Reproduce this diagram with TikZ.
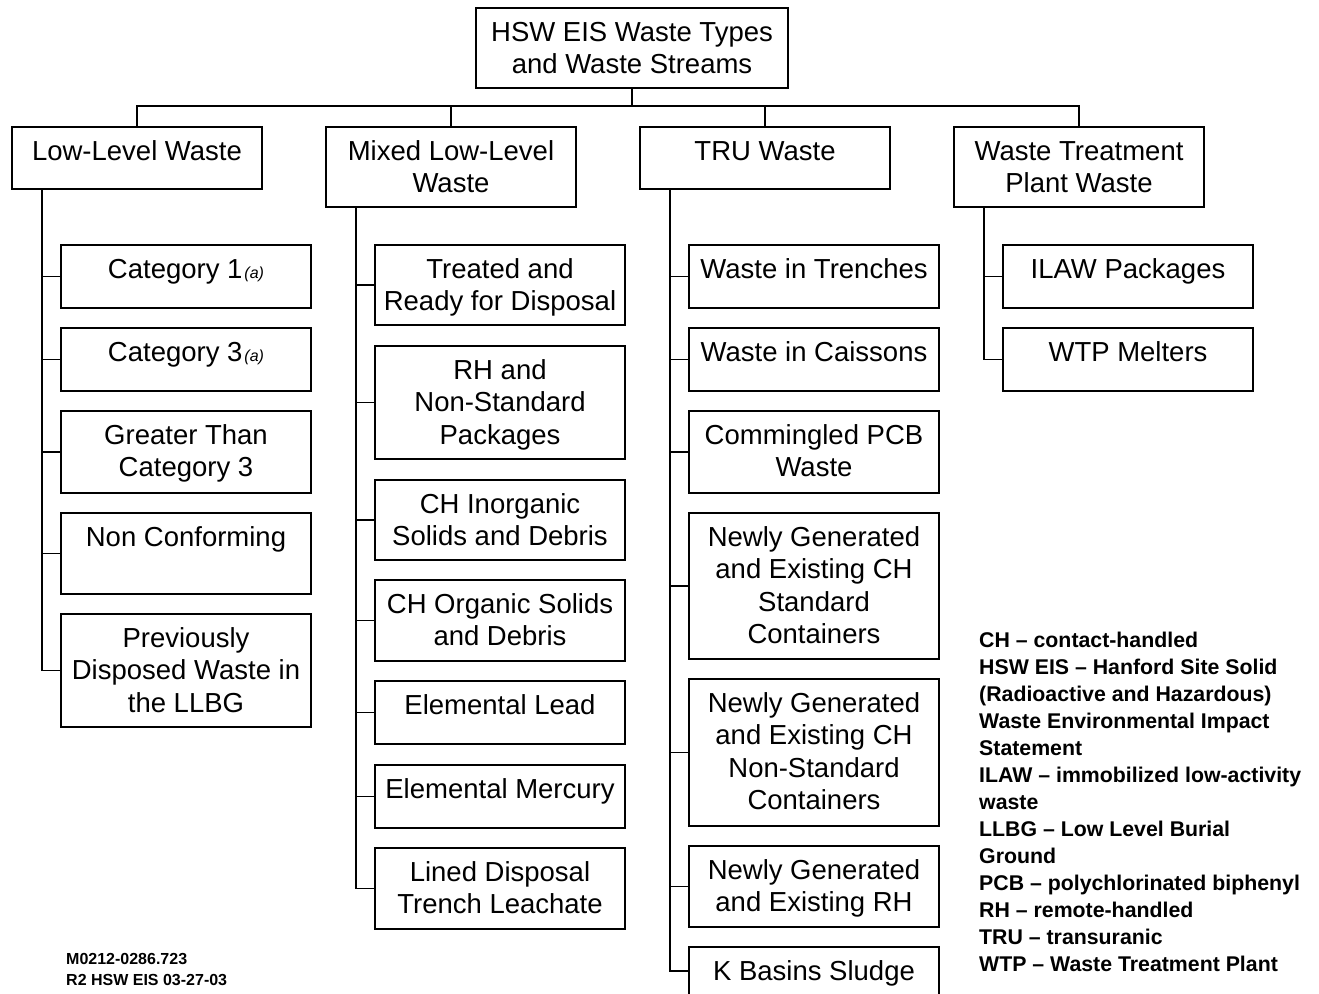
\documentclass[tikz,border=0pt]{standalone}
\usepackage{fontspec}
\setmainfont{Liberation Sans}
\begin{document}
\begin{tikzpicture}[x=1pt,y=-1pt,
  wbox/.style={draw, line width=1.5pt, rectangle, inner sep=0pt, outer sep=0pt, anchor=north west},
  wtext/.style={inner sep=0pt, anchor=base},
  link/.style={line width=1.5pt, line cap=rect}]
\fill[white] (0,0) rectangle (1319,993);
\useasboundingbox (0,0) rectangle (1319,993);

% box: name, left x, top y, width, height, text (top-aligned, centred)
\newcommand\wastebox[6]{%
  \node[wbox, minimum width=#4pt, minimum height=#5pt] (#1) at (#2,#3) {};
  \node[wtext] (#1-t) at ([yshift=-33pt]#1.north)
    {\parbox[t]{#4pt}{\centering\fontsize{27.5}{32.5}\selectfont #6}};}
\newcommand\notea{\kern2pt{\fontsize{16}{16}\selectfont\itshape (a)}}

% root and main waste types
\wastebox{root}{476}{8}{312}{80}{HSW EIS Waste Types\\and Waste Streams}
\wastebox{llw}{12}{127}{250}{62}{Low-Level Waste}
\wastebox{mllw}{326}{127}{250}{80}{Mixed Low-Level\\Waste}
\wastebox{tru}{640}{127}{250}{62}{TRU Waste}
\wastebox{wtpw}{954}{127}{250}{80}{Waste Treatment\\Plant Waste}

% low-level waste streams
\wastebox{cat1}{61}{245}{250}{63}{Category 1\notea}
\wastebox{cat3}{61}{328}{250}{63}{Category 3\notea}
\wastebox{gtc}{61}{411}{250}{82}{Greater Than\\Category 3}
\wastebox{ncf}{61}{513}{250}{81}{Non Conforming}
\wastebox{pdw}{61}{614}{250}{113}{Previously\\Disposed Waste in\\the LLBG}

% mixed low-level waste streams
\wastebox{trd}{375}{245}{250}{80}{Treated and\\Ready for Disposal}
\wastebox{rhns}{375}{346}{250}{113}{RH and\\Non-Standard\\Packages}
\wastebox{chi}{375}{480}{250}{80}{CH Inorganic\\Solids and Debris}
\wastebox{cho}{375}{580}{250}{81}{CH Organic Solids\\and Debris}
\wastebox{lead}{375}{681}{250}{63}{Elemental Lead}
\wastebox{merc}{375}{765}{250}{63}{Elemental Mercury}
\wastebox{ldt}{375}{848}{250}{81}{Lined Disposal\\Trench Leachate}

% TRU waste streams
\wastebox{wtr}{689}{245}{250}{63}{Waste in Trenches}
\wastebox{wca}{689}{328}{250}{63}{Waste in Caissons}
\wastebox{pcb}{689}{411}{250}{82}{Commingled PCB\\Waste}
\wastebox{ngs}{689}{513}{250}{146}{Newly Generated\\and Existing CH\\Standard\\Containers}
\wastebox{ngn}{689}{679}{250}{147}{Newly Generated\\and Existing CH\\Non-Standard\\Containers}
\wastebox{ngrh}{689}{846}{250}{81}{Newly Generated\\and Existing RH}
\wastebox{kbs}{689}{947}{250}{48}{K Basins Sludge}

% WTP waste streams
\wastebox{ilaw}{1003}{245}{250}{63}{ILAW Packages}
\wastebox{melt}{1003}{328}{250}{63}{WTP Melters}

% bus from root to main types
\coordinate (bus) at (632,106);
\foreach \n in {llw,mllw,tru,wtpw}
  \draw[link] (root.south) -- (bus) -| (\n.north);

% spines down to the streams
\coordinate (llw-s) at ([xshift=30pt]llw.south west);
\coordinate (mllw-s) at ([xshift=30pt]mllw.south west);
\coordinate (tru-s) at ([xshift=30pt]tru.south west);
\coordinate (wtpw-s) at ([xshift=30pt]wtpw.south west);
\foreach \n in {cat1,cat3,gtc,ncf,pdw}
  \draw[link] (llw-s) |- (\n.west);
\foreach \n in {trd,rhns,chi,cho,lead,merc,ldt}
  \draw[link] (mllw-s) |- (\n.west);
\foreach \n in {wtr,wca,pcb,ngs,ngn,ngrh,kbs}
  \draw[link] (tru-s) |- (\n.west);
\foreach \n in {ilaw,melt}
  \draw[link] (wtpw-s) |- (\n.west);

% abbreviations
\node[inner sep=0pt, anchor=base west] (legend) at (979,647)
  {\parbox[t]{340pt}{\raggedright\fontsize{21.3}{27}\selectfont\bfseries
   CH – contact-handled\\
   HSW EIS – Hanford Site Solid\\
   (Radioactive and Hazardous)\\
   Waste Environmental Impact\\
   Statement\\
   ILAW – immobilized low-activity\\
   waste\\
   LLBG – Low Level Burial\\
   Ground\\
   PCB – polychlorinated biphenyl\\
   RH – remote-handled\\
   TRU – transuranic\\
   WTP – Waste Treatment Plant}};

% figure reference
\node[inner sep=0pt, anchor=base west] (figref) at (66,964)
  {\parbox[t]{200pt}{\raggedright\fontsize{16}{21}\selectfont\bfseries
   M0212-0286.723\\R2 HSW EIS 03-27-03}};
\end{tikzpicture}
\end{document}
